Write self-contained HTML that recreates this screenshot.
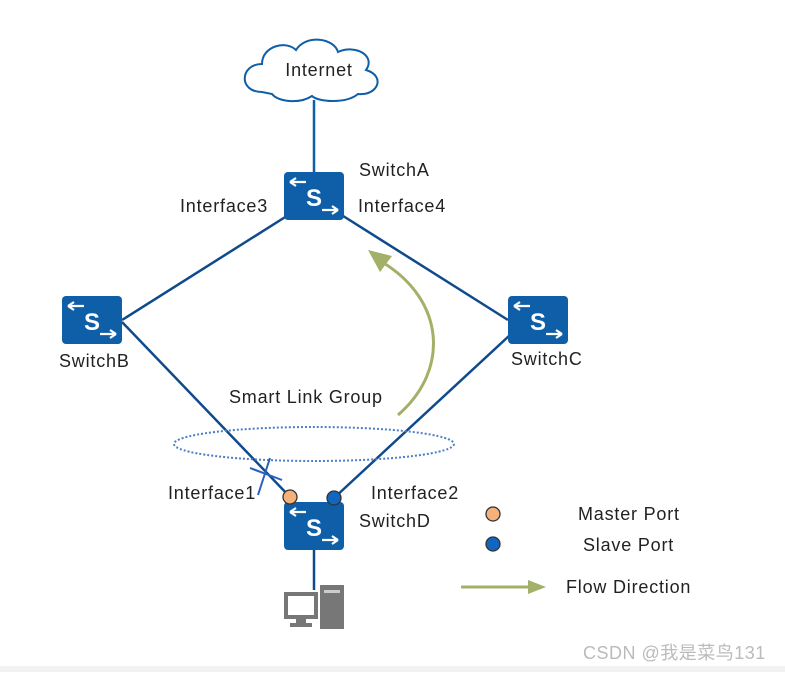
<!DOCTYPE html>
<html><head><meta charset="utf-8"><style>
body{margin:0;background:#fff;width:785px;height:672px;overflow:hidden}
text{font-family:"Liberation Sans",sans-serif;font-size:18px;letter-spacing:0.8px;fill:#222}
</style></head><body>
<svg width="785" height="672" viewBox="0 0 785 672" xmlns="http://www.w3.org/2000/svg">
<defs>
<g id="sw">
<rect x="0" y="0" width="60" height="48" rx="4" fill="#0e5ea8"/>
<text x="30" y="34" text-anchor="middle" style="font-size:24px;font-weight:bold;fill:#fff;letter-spacing:0">S</text>
<path d="M6 10 H22 M6 10 l6 -4 M6 10 l6 4" stroke="#fff" stroke-width="2.2" fill="none"/>
<path d="M38 38 H54 M54 38 l-6 -4 M54 38 l-6 4" stroke="#fff" stroke-width="2.2" fill="none"/>
</g>
</defs>
<rect x="0" y="666" width="785" height="6" fill="#f1f2f4"/>
<!-- cloud -->
<path d="M262 92 C238 92 240 64 262 64 C262 46 286 40 296 50 C306 34 334 38 338 52 C356 44 376 56 366 70 C386 76 378 96 358 94 C346 104 318 102 312 96 C300 104 278 102 272 94 Z" fill="#fff" stroke="#0e5ea8" stroke-width="2"/>
<text x="319" y="76" text-anchor="middle">Internet</text>
<line x1="314" y1="100" x2="314" y2="175" stroke="#0e5ea8" stroke-width="2.5"/>
<!-- links -->
<g stroke="#0e4a8c" stroke-width="2.5" fill="none">
<line x1="122" y1="320" x2="290" y2="214"/>
<line x1="340" y1="214" x2="508" y2="320"/>
<line x1="122" y1="322" x2="290" y2="497"/>
<line x1="510" y1="335" x2="334" y2="498"/>
<line x1="314" y1="549" x2="314" y2="590"/>
</g>
<ellipse cx="314" cy="444" rx="140" ry="17" fill="none" stroke="#4a7fc8" stroke-width="2" stroke-dasharray="2 2"/>
<line x1="250" y1="468" x2="282" y2="480" stroke="#2a5fc0" stroke-width="2"/>
<line x1="270" y1="458" x2="258" y2="495" stroke="#2a5fc0" stroke-width="2"/>
<!-- flow arrow -->
<path d="M398 415 C450 370 445 300 382 262" stroke="#a3b068" stroke-width="3" fill="none"/>
<path d="M368 250 L392 256 L380 272 Z" fill="#a3b068"/>
<use href="#sw" x="284" y="172"/>
<use href="#sw" x="62" y="296"/>
<use href="#sw" x="508" y="296"/>
<use href="#sw" x="284" y="502"/>
<circle cx="290" cy="497" r="7" fill="#f6b07a" stroke="#333" stroke-width="1.3"/>
<circle cx="334" cy="498" r="7" fill="#1266c0" stroke="#333" stroke-width="1.3"/>
<!-- PC -->
<g>
<rect x="320" y="585" width="24" height="44" fill="#777"/>
<rect x="324" y="590" width="16" height="3" fill="#ccc"/>
<rect x="284" y="592" width="34" height="27" fill="#777"/>
<rect x="288" y="596" width="26" height="19" fill="#fff"/>
<rect x="296" y="619" width="10" height="4" fill="#777"/>
<rect x="290" y="623" width="22" height="4" fill="#777"/>
</g>
<text x="359" y="176">SwitchA</text>
<text x="358" y="212">Interface4</text>
<text x="180" y="212">Interface3</text>
<text x="59" y="367">SwitchB</text>
<text x="511" y="365">SwitchC</text>
<text x="229" y="403">Smart Link Group</text>
<text x="168" y="499">Interface1</text>
<text x="371" y="499">Interface2</text>
<text x="359" y="527">SwitchD</text>
<circle cx="493" cy="514" r="7" fill="#f6b07a" stroke="#333" stroke-width="1.3"/>
<circle cx="493" cy="544" r="7" fill="#1266c0" stroke="#333" stroke-width="1.3"/>
<text x="578" y="520">Master Port</text>
<text x="583" y="551">Slave Port</text>
<line x1="461" y1="587" x2="530" y2="587" stroke="#a3b068" stroke-width="3"/>
<path d="M546 587 L528 580 L528 594 Z" fill="#a3b068"/>
<text x="566" y="593">Flow Direction</text>
<text x="583" y="659" style="font-family:'Liberation Sans','Noto Sans CJK SC',sans-serif;font-size:18px;letter-spacing:0.5px;fill:#bbb">CSDN @我是菜鸟131</text>
</svg>
</body></html>
